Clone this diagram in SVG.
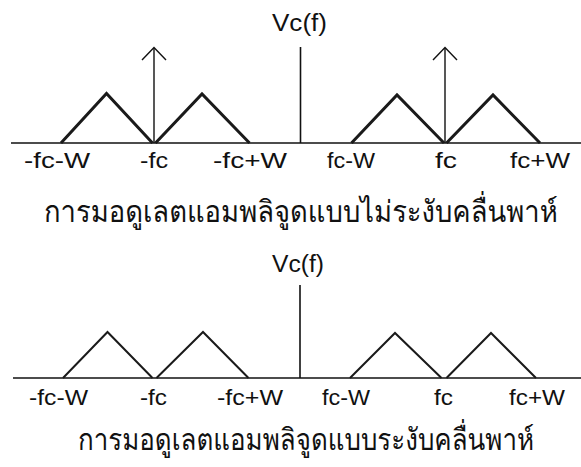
<svg xmlns="http://www.w3.org/2000/svg" width="581" height="467" viewBox="0 0 581 467">
  <style>
    .axis { stroke: #111; stroke-width: 1.6; fill: none; }
    .impulse { stroke: #111; stroke-width: 1.4; fill: none; }
    .band-thick { stroke: #1a1a1a; stroke-width: 3; fill: none; stroke-linejoin: miter; }
    .band-thin { stroke: #1a1a1a; stroke-width: 2; fill: none; stroke-linejoin: miter; }
    .lbl { font-family: "Liberation Sans", Arial, sans-serif; font-size: 22px; fill: #111; }
    .vc { font-family: "Liberation Sans", Arial, sans-serif; font-size: 23px; fill: #111; }
    .cap { font-family: "Loma", "Garuda", "Waree", "Norasi", "Noto Sans Thai Looped", "Noto Sans Thai", "Noto Sans", "DejaVu Sans", sans-serif; font-size: 30px; font-weight: 300; fill: #111; }
  </style>

  <!-- DSB-LC spectrum (carrier present) -->
  <g id="spectrum-with-carrier">
    <line class="axis" x1="11" y1="143" x2="581" y2="143"/>
    <line class="axis" x1="300.5" y1="47" x2="300.5" y2="143"/>
    <text class="vc" x="272" y="30.5" textLength="55" lengthAdjust="spacingAndGlyphs">Vc(f)</text>

    <g id="carrier-neg">
      <line class="impulse" x1="154" y1="143" x2="154" y2="48"/>
      <polyline class="impulse" points="142,60 154,47.5 166,60"/>
    </g>
    <g id="carrier-pos">
      <line class="impulse" x1="445" y1="143" x2="445" y2="48"/>
      <polyline class="impulse" points="433,60 445,47.5 457,60"/>
    </g>

    <polyline class="band-thick" points="61,143 106.5,93.5 152.5,143"/>
    <polyline class="band-thick" points="155.5,143 202,94 249.5,143"/>
    <polyline class="band-thick" points="351.5,143 397,95 444,143"/>
    <polyline class="band-thick" points="446.5,143 493,95 540,143"/>

    <text class="lbl" x="24" y="167.5" textLength="66" lengthAdjust="spacingAndGlyphs">-fc-W</text>
    <text class="lbl" x="140" y="167.5" textLength="28" lengthAdjust="spacingAndGlyphs">-fc</text>
    <text class="lbl" x="213" y="167.5" textLength="74" lengthAdjust="spacingAndGlyphs">-fc+W</text>
    <text class="lbl" x="327" y="167.5" textLength="48" lengthAdjust="spacingAndGlyphs">fc-W</text>
    <text class="lbl" x="435" y="167.5" textLength="22" lengthAdjust="spacingAndGlyphs">fc</text>
    <text class="lbl" x="510" y="167.5" textLength="60" lengthAdjust="spacingAndGlyphs">fc+W</text>

    <!-- caption is set slightly condensed -->
    <text class="cap" transform="translate(44,222) scale(0.914,1)">การมอดูเลตแอมพลิจูดแบบไม่ระงับคลื่นพาห์</text>
  </g>

  <!-- DSB-SC spectrum (carrier suppressed) -->
  <g id="spectrum-suppressed-carrier">
    <line class="axis" x1="13" y1="378" x2="581" y2="378"/>
    <line class="axis" x1="300" y1="285" x2="300" y2="378"/>
    <text class="vc" x="272" y="271.5" textLength="52" lengthAdjust="spacingAndGlyphs">Vc(f)</text>

    <polyline class="band-thin" points="63,378 107.5,332 152.5,378"/>
    <polyline class="band-thin" points="156.5,378 203,332 248.5,378"/>
    <polyline class="band-thin" points="350,378 395,333 441.5,378"/>
    <polyline class="band-thin" points="446.5,378 491,333 536,378"/>

    <text class="lbl" x="29" y="404.5" textLength="59" lengthAdjust="spacingAndGlyphs">-fc-W</text>
    <text class="lbl" x="140" y="404.5" textLength="27" lengthAdjust="spacingAndGlyphs">-fc</text>
    <text class="lbl" x="217" y="404.5" textLength="66" lengthAdjust="spacingAndGlyphs">-fc+W</text>
    <text class="lbl" x="322" y="404.5" textLength="48" lengthAdjust="spacingAndGlyphs">fc-W</text>
    <text class="lbl" x="434" y="404.5" textLength="19" lengthAdjust="spacingAndGlyphs">fc</text>
    <text class="lbl" x="509" y="404.5" textLength="56" lengthAdjust="spacingAndGlyphs">fc+W</text>

    <text class="cap" transform="translate(78,450) scale(0.865,1)">การมอดูเลตแอมพลิจูดแบบระงับคลื่นพาห์</text>
  </g>
</svg>
